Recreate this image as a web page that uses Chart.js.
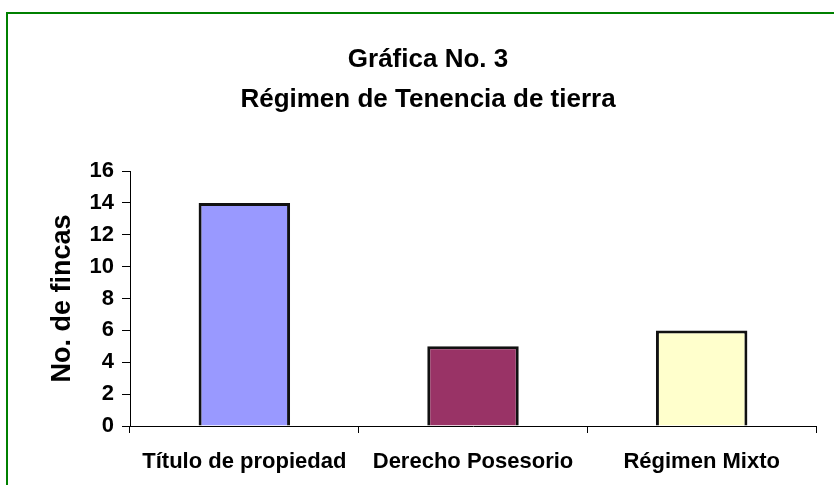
<!DOCTYPE html>
<html>
<head>
<meta charset="utf-8">
<title>Gráfica No. 3</title>
<script src="https://cdn.jsdelivr.net/npm/chart.js@4/dist/chart.umd.min.js"></script>
<style>
    html, body { margin: 0; padding: 0; background: #fff; overflow: hidden; }
    #frame {
        position: absolute;
        left: 6px; top: 12px;
        width: 1000px; height: 1000px;
        border: 2px solid #008000;
        box-sizing: border-box;
    }
    #wrap { position: absolute; left: 0; top: 0; width: 834px; height: 485px; }
</style>
</head>
<body>
<div id="frame"></div>
<div id="wrap"><canvas id="tenenciaChart" width="834" height="485"></canvas></div>

<script>
// ========== DATA ==========
const titleLines = ['Gráfica No. 3', 'Régimen de Tenencia de tierra'];
const categories = ['Título de propiedad', 'Derecho Posesorio', 'Régimen Mixto'];
const fincas = [14, 5, 6];
const barColors = ['#9999FF', '#993366', '#FFFFCC'];
const yTitle = 'No. de fincas';
const yMin = 0;
const yMax = 16;
const yStep = 2;

const FONT = '"Liberation Sans", Arial, sans-serif';

// ========== CHART ==========
document.addEventListener('DOMContentLoaded', function () {
    const ctx = document.getElementById('tenenciaChart');

    window.tenenciaChart = new Chart(ctx, {
        type: 'bar',
        data: {
            labels: categories,
            datasets: [{
                label: yTitle,
                data: fincas,
                backgroundColor: barColors,
                borderColor: '#111',
                borderWidth: 3,
                barPercentage: 0.4,
                categoryPercentage: 1
            }]
        },
        options: {
            responsive: false,
            animation: false,
            // left padding shifts the title centre to match the original
            layout: { padding: { left: 40, right: 18, top: 0, bottom: 0 } },
            plugins: {
                legend: { display: false },
                tooltip: { enabled: false },
                title: {
                    display: true,
                    text: titleLines,
                    color: '#000',
                    font: { family: FONT, size: 26, weight: 'bold', lineHeight: 1.54 },
                    padding: { top: 40, bottom: 51 }
                }
            },
            scales: {
                x: {
                    afterFit: function (scale) { scale.height = 59; },
                    grid: {
                        offset: true,
                        drawOnChartArea: false,
                        drawTicks: true,
                        tickLength: 7,
                        color: '#000'
                    },
                    border: { color: '#000', width: 1 },
                    ticks: {
                        color: '#000',
                        font: { family: FONT, size: 22, weight: 'bold' },
                        padding: 16,
                        maxRotation: 0,
                        autoSkip: false
                    }
                },
                y: {
                    min: yMin,
                    max: yMax,
                    afterFit: function (scale) { scale.width = 90; },
                    grid: {
                        drawOnChartArea: false,
                        drawTicks: true,
                        tickLength: 8,
                        color: '#000'
                    },
                    border: { color: '#000', width: 1 },
                    ticks: {
                        stepSize: yStep,
                        color: '#000',
                        font: { family: FONT, size: 22, weight: 'bold' },
                        padding: 8
                    },
                    title: {
                        display: true,
                        text: yTitle,
                        color: '#000',
                        font: { family: FONT, size: 27, weight: 'bold' },
                        padding: { top: 6, bottom: 0 }
                    }
                }
            }
        }
    });
});
</script>
</body>
</html>
